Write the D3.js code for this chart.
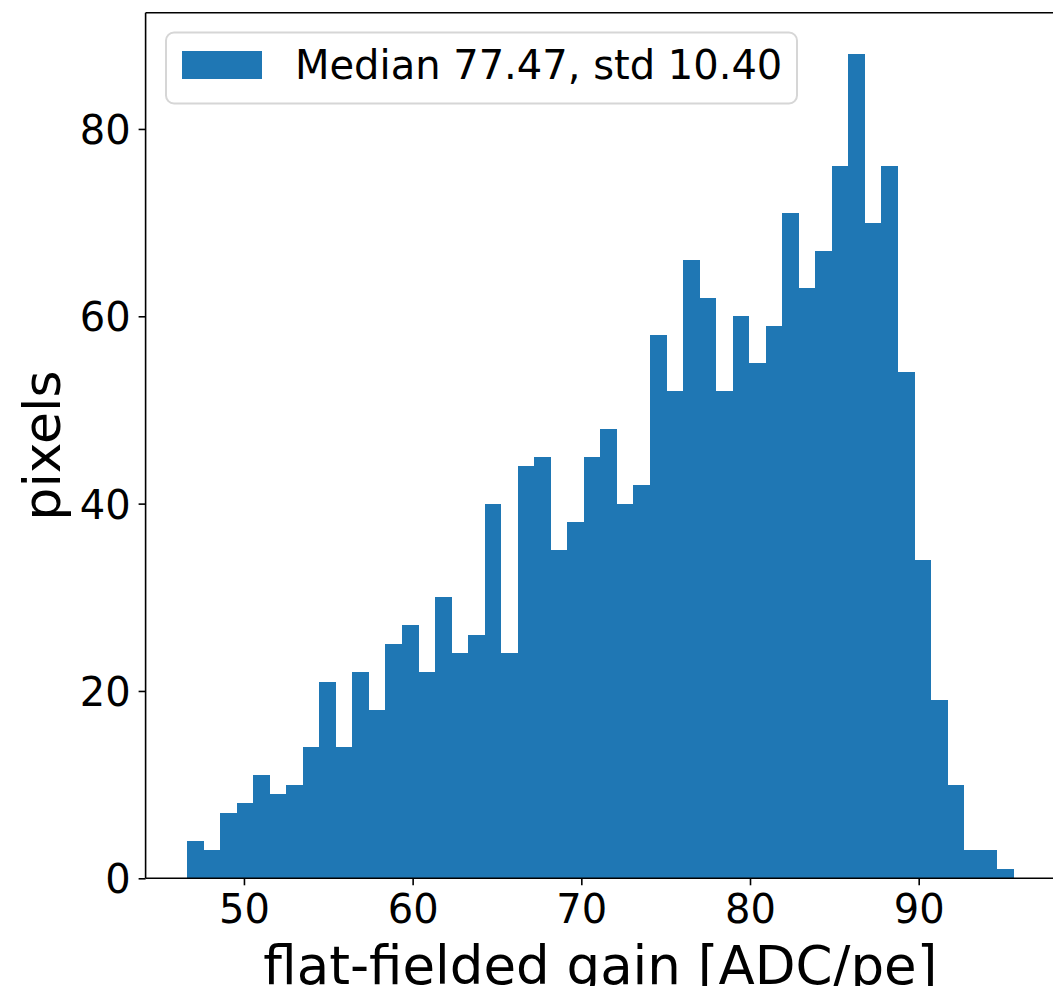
<!DOCTYPE html>
<html>
<head>
<meta charset="utf-8">
<script src="https://cdn.jsdelivr.net/npm/d3@7"></script>
<style>
  html, body { margin: 0; padding: 0; background: #fff; }
  svg { display: block; font-family: "DejaVu Sans", sans-serif; }
</style>
</head>
<body>
<svg id="chart" width="1053" height="986"></svg>
<script>
// ---- data ----
const counts = [4, 3, 7, 8, 11, 9, 10, 14, 21, 14,
                22, 18, 25, 27, 22, 30, 24, 26, 40, 24,
                44, 45, 35, 38, 45, 48, 40, 42, 58, 52,
                66, 62, 52, 60, 55, 59, 71, 63, 67, 76,
                88, 70, 76, 54, 34, 19, 10, 3, 3, 1];
const binLow = 46.62;
const binHigh = 95.63;
const xTicks = [50, 60, 70, 80, 90];
const yTicks = [0, 20, 40, 60, 80];
const legendLabel = "Median 77.47, std 10.40";
const xLabel = "flat-fielded gain [ADC/pe]";
const yLabel = "pixels";

// ---- layout ----
const plot = { left: 145.6, right: 1055, top: 12.8, bottom: 878.3 };
const nb = counts.length;
const bw = (binHigh - binLow) / nb;
const bins = counts.map((c, i) => ({ x0: binLow + i * bw, x1: binLow + (i + 1) * bw, n: c }));

const pad = (binHigh - binLow) * 0.05;
const x = d3.scaleLinear().domain([binLow - pad, binHigh + pad]).range([plot.left, plot.right]);
const yMax = d3.max(counts) * 1.05;
const y = d3.scaleLinear().domain([0, yMax]).range([plot.bottom, plot.top]);

const svg = d3.select("#chart");

// bars
svg.append("g").selectAll("rect").data(bins).join("rect")
  .attr("x", d => x(d.x0))
  .attr("width", d => x(d.x1) - x(d.x0) + 0.3)
  .attr("y", d => y(d.n))
  .attr("height", d => y(0) - y(d.n))
  .attr("fill", "#1f77b4")
  .attr("shape-rendering", "crispEdges");

// axes
const xAxis = d3.axisBottom(x).tickValues(xTicks).tickSize(7).tickPadding(7).tickFormat(d3.format("d"));
const yAxis = d3.axisLeft(y).tickValues(yTicks).tickSize(7).tickPadding(8).tickFormat(d3.format("d"));

const gx = svg.append("g").attr("transform", `translate(0,${plot.bottom})`).call(xAxis);
const gy = svg.append("g").attr("transform", `translate(${plot.left},0)`).call(yAxis);
[gx, gy].forEach(g => {
  g.select(".domain").remove();
  g.selectAll(".tick line").attr("stroke", "#000").attr("stroke-width", 1.6);
  g.selectAll(".tick text").attr("fill", "#000").attr("font-size", 40)
    .attr("font-family", "DejaVu Sans, sans-serif");
});
gy.selectAll(".tick text").attr("dy", "0.36em");
gx.selectAll(".tick text").attr("dy", "0.76em");

// spines
const sp = svg.append("g").attr("stroke", "#000").attr("stroke-width", 1.6).attr("fill", "none");
sp.append("line").attr("x1", plot.left).attr("x2", plot.left).attr("y1", plot.top).attr("y2", plot.bottom);
sp.append("line").attr("x1", plot.right).attr("x2", plot.right).attr("y1", plot.top).attr("y2", plot.bottom);
sp.append("line").attr("x1", plot.left).attr("x2", plot.right).attr("y1", plot.top).attr("y2", plot.top);
sp.append("line").attr("x1", plot.left).attr("x2", plot.right).attr("y1", plot.bottom).attr("y2", plot.bottom);

// axis labels
svg.append("text")
  .attr("x", (plot.left + plot.right) / 2)
  .attr("y", 984)
  .attr("text-anchor", "middle")
  .attr("font-size", 53)
  .attr("fill", "#000")
  .text(xLabel);

svg.append("text")
  .attr("transform", `translate(60,${(plot.top + plot.bottom) / 2}) rotate(-90)`)
  .attr("text-anchor", "middle")
  .attr("font-size", 52)
  .attr("fill", "#000")
  .text(yLabel);

// legend
const lg = svg.append("g");
lg.append("rect")
  .attr("x", 166).attr("y", 32.5).attr("width", 631).attr("height", 71)
  .attr("rx", 8).attr("ry", 8)
  .attr("fill", "#fff").attr("fill-opacity", 0.8)
  .attr("stroke", "#d6d6d6").attr("stroke-width", 2);
lg.append("rect")
  .attr("x", 182).attr("y", 51).attr("width", 80).attr("height", 28)
  .attr("fill", "#1f77b4");
lg.append("text")
  .attr("x", 295).attr("y", 79)
  .attr("font-size", 40).attr("fill", "#000")
  .text(legendLabel);
</script>
</body>
</html>
